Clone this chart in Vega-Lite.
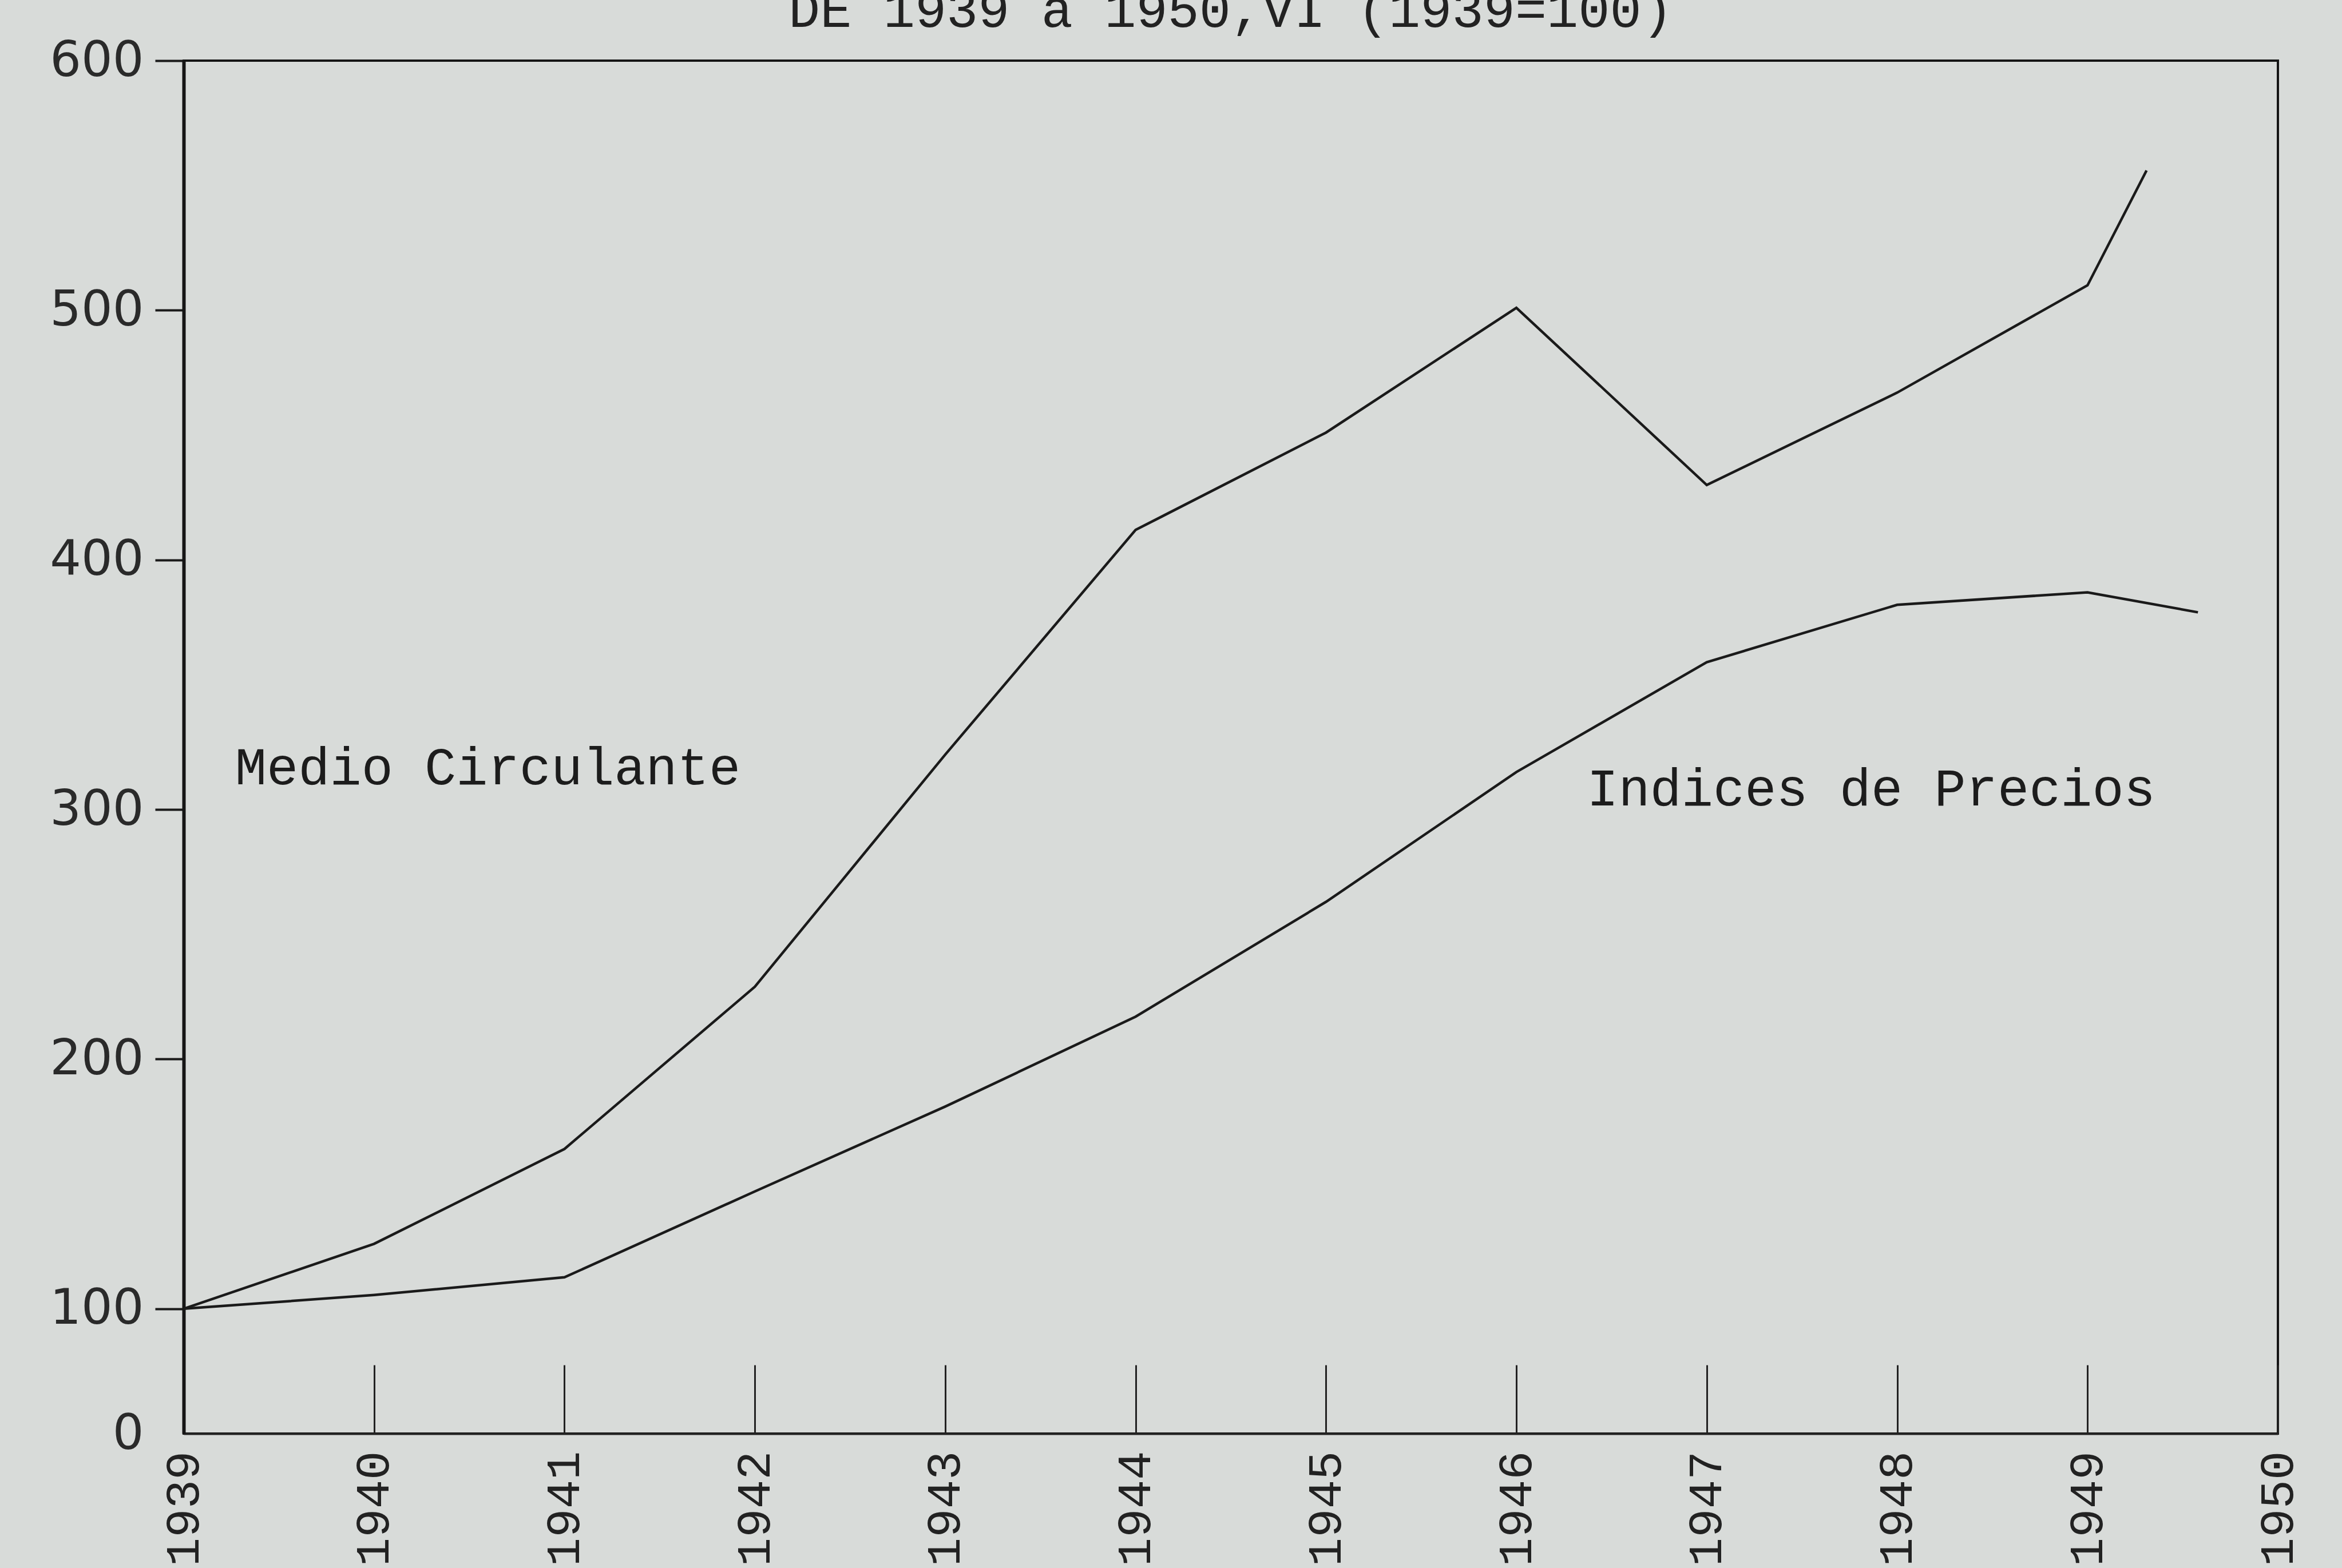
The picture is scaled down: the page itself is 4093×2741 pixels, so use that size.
{
  "$schema": "https://vega.github.io/schema/vega-lite/v6.json",
  "width": 3660,
  "height": 2400,
  "autosize": {"type": "none"},
  "padding": {"left": 321, "top": 106, "right": 112, "bottom": 235},
  "background": "#d8dbd9",
  "title": {
    "text": "DE 1939 a 1950,VI (1939=100)",
    "font": "Liberation Mono",
    "fontSize": 92,
    "fontWeight": "normal",
    "color": "#222222",
    "anchor": "middle",
    "baseline": "alphabetic",
    "offset": -76
  },
  "config": {
    "view": {"stroke": "#151515", "strokeWidth": 4},
    "axis": {"grid": false}
  },
  "layer": [
    {
      "data": {
        "values": [
          {"series": "Medio Circulante", "year": 1939, "value": 100},
          {"series": "Medio Circulante", "year": 1940, "value": 126},
          {"series": "Medio Circulante", "year": 1941, "value": 164},
          {"series": "Medio Circulante", "year": 1942, "value": 229},
          {"series": "Medio Circulante", "year": 1943, "value": 322},
          {"series": "Medio Circulante", "year": 1944, "value": 412},
          {"series": "Medio Circulante", "year": 1945, "value": 451},
          {"series": "Medio Circulante", "year": 1946, "value": 501},
          {"series": "Medio Circulante", "year": 1947, "value": 430},
          {"series": "Medio Circulante", "year": 1948, "value": 467},
          {"series": "Medio Circulante", "year": 1949, "value": 510},
          {"series": "Medio Circulante", "year": 1949.31, "value": 556},
          {"series": "Indices de Precios", "year": 1939, "value": 100},
          {"series": "Indices de Precios", "year": 1940, "value": 105.5},
          {"series": "Indices de Precios", "year": 1941, "value": 112.6},
          {"series": "Indices de Precios", "year": 1942, "value": 147},
          {"series": "Indices de Precios", "year": 1943, "value": 181},
          {"series": "Indices de Precios", "year": 1944, "value": 217},
          {"series": "Indices de Precios", "year": 1945, "value": 263},
          {"series": "Indices de Precios", "year": 1946, "value": 315},
          {"series": "Indices de Precios", "year": 1947, "value": 359},
          {"series": "Indices de Precios", "year": 1948, "value": 382},
          {"series": "Indices de Precios", "year": 1949, "value": 387},
          {"series": "Indices de Precios", "year": 1949.58, "value": 379}
        ]
      },
      "mark": {"type": "line", "strokeWidth": 4.5, "color": "#1a1a1a"},
      "encoding": {
        "x": {
          "field": "year",
          "type": "quantitative",
          "scale": {"domain": [1939, 1950], "nice": false, "zero": false},
          "axis": {
            "title": null,
            "values": [1939, 1940, 1941, 1942, 1943, 1944, 1945, 1946, 1947, 1948, 1949, 1950],
            "format": "d",
            "labelAngle": -90,
            "labelFont": "Liberation Mono",
            "labelFontSize": 84,
            "labelColor": "#222222",
            "labelPadding": 150,
            "labelLimit": 0,
            "tickSize": -120,
            "tickWidth": 3,
            "tickColor": "#222222",
            "domainColor": "#222222",
            "domainWidth": 4,
            "labelFlush": false,
            "labelOverlap": false
          }
        },
        "y": {
          "field": "value",
          "type": "quantitative",
          "scale": {"domain": [50, 600], "nice": false, "zero": false},
          "axis": {
            "title": null,
            "values": [50, 100, 200, 300, 400, 500, 600],
            "labelExpr": "datum.value == 50 ? '0' : datum.label",
            "labelFont": "DejaVu Sans",
            "labelFontSize": 86,
            "labelColor": "#2a2a2a",
            "labelPadding": 20,
            "labelLimit": 0,
            "tickSize": 50,
            "tickWidth": 4,
            "tickColor": "#1a1a1a",
            "tickOpacity": {"condition": {"test": "datum.value == 50", "value": 0}, "value": 1},
            "domainColor": "#151515",
            "domainWidth": 6,
            "labelFlush": false,
            "labelOverlap": false
          }
        },
        "detail": {"field": "series", "type": "nominal"}
      }
    },
    {
      "data": {
        "values": [
          {"label": "Medio Circulante", "year": 1939.27, "value": 310},
          {"label": "Indices de Precios", "year": 1946.37, "value": 301.6}
        ]
      },
      "mark": {
        "type": "text",
        "font": "Liberation Mono",
        "fontSize": 92,
        "align": "left",
        "baseline": "alphabetic",
        "color": "#1c1c1c"
      },
      "encoding": {
        "x": {"field": "year", "type": "quantitative"},
        "y": {"field": "value", "type": "quantitative"},
        "text": {"field": "label"}
      }
    }
  ]
}
